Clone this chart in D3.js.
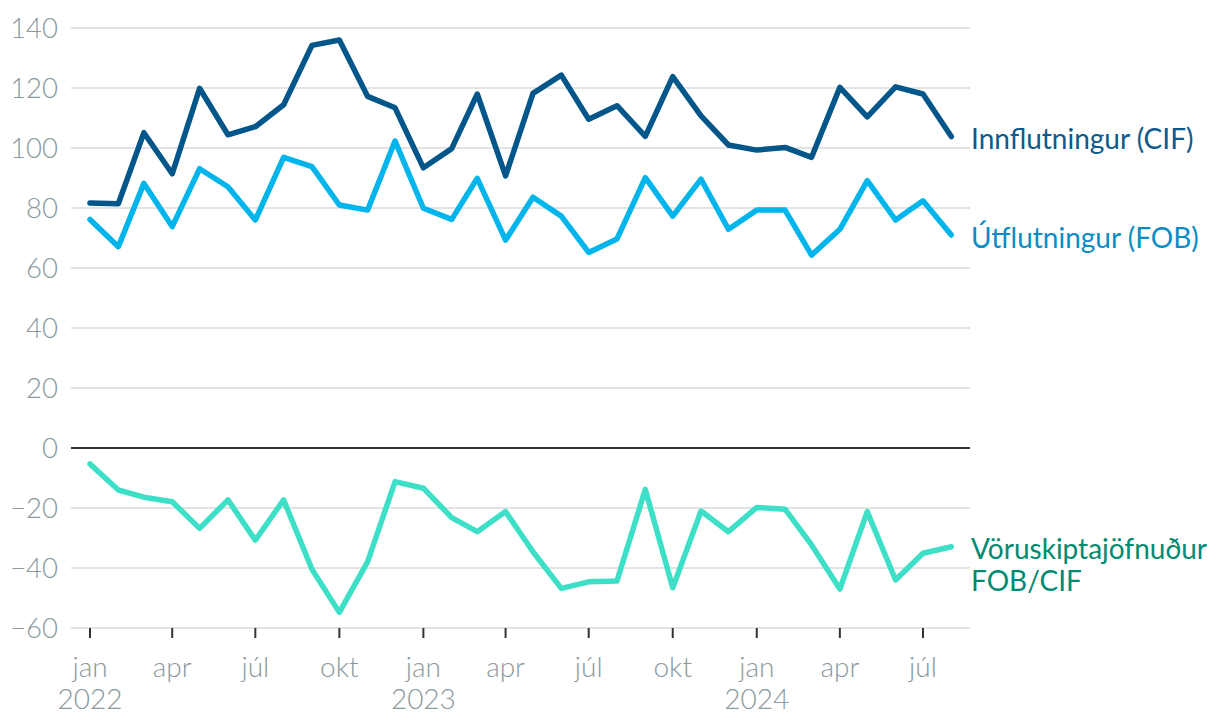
<!DOCTYPE html>
<html>
<head>
<meta charset="utf-8">
<script src="https://cdn.jsdelivr.net/npm/d3@7"></script>
<style>
  html, body { margin: 0; padding: 0; background: #fff; }
  svg { display: block; font-family: Lato, "Open Sans", sans-serif; }
</style>
</head>
<body>
<svg id="chart" width="1220" height="728"></svg>
<script>
const months = [
  "2022-01","2022-02","2022-03","2022-04","2022-05","2022-06","2022-07","2022-08","2022-09","2022-10","2022-11","2022-12",
  "2023-01","2023-02","2023-03","2023-04","2023-05","2023-06","2023-07","2023-08","2023-09","2023-10","2023-11","2023-12",
  "2024-01","2024-02","2024-03","2024-04","2024-05","2024-06","2024-07","2024-08"
];
const innflutningur = [
  81.7, 81.4, 105.1, 91.4, 119.9, 104.4, 107.1, 114.4, 134.2, 136.0, 117.2, 113.4,
  93.4, 99.8, 118.0, 90.7, 118.2, 124.3, 109.6, 114.1, 103.9, 123.8, 110.7, 101.0,
  99.3, 100.2, 96.9, 120.2, 110.4, 120.4, 118.0, 103.8
];
const utflutningur = [
  76.2, 67.1, 88.2, 73.8, 93.1, 87.1, 76.0, 96.9, 93.8, 81.0, 79.3, 102.3,
  79.9, 76.2, 89.9, 69.3, 83.6, 77.3, 65.2, 69.7, 90.1, 77.3, 89.6, 72.9,
  79.3, 79.3, 64.3, 72.9, 89.1, 76.0, 82.4, 71.0
];
const voruskiptajofnudur = [
  -5.3, -14.0, -16.4, -17.9, -26.8, -17.3, -30.7, -17.3, -40.4, -54.8, -37.9, -11.2,
  -13.4, -23.2, -27.9, -21.2, -34.6, -46.8, -44.6, -44.3, -13.8, -46.6, -21.0, -27.9,
  -19.8, -20.4, -32.3, -47.0, -21.2, -44.0, -35.1, -32.9
];
const yTicks = [-60, -40, -20, 0, 20, 40, 60, 80, 100, 120, 140];
const monthNames = ["jan","feb","mar","apr","maí","jún","júl","ágú","sep","okt","nóv","des"];
const seriesLabels = [
  { name: "Innflutningur (CIF)", lines: ["Innflutningur (CIF)"] },
  { name: "Útflutningur (FOB)", lines: ["Útflutningur (FOB)"] },
  { name: "Vöruskiptajöfnuður FOB/CIF", lines: ["Vöruskiptajöfnuður", "FOB/CIF"] }
];

const parse = d3.timeParse("%Y-%m");
const dates = months.map(parse);

const svg = d3.select("#chart");
const plotLeft = 71, plotRight = 970;

const x = d3.scaleTime()
  .domain([dates[0], dates[dates.length - 1]])
  .range([90, 951.3]);
const y = d3.scaleLinear().domain([-60, 140]).range([628, 28]);

// gridlines
svg.append("g").selectAll("line")
  .data(yTicks.filter(d => d !== 0))
  .join("line")
  .attr("x1", plotLeft).attr("x2", plotRight)
  .attr("y1", d => y(d)).attr("y2", d => y(d))
  .attr("stroke", "#e3e3e3").attr("stroke-width", 2);

// y labels
svg.append("g").selectAll("text")
  .data(yTicks)
  .join("text")
  .attr("x", 58).attr("y", d => y(d))
  .attr("dy", "0.35em")
  .attr("text-anchor", "end")
  .attr("font-size", 27.5).attr("font-weight", 300)
  .attr("fill", "#8a999e")
  .text(d => d < 0 ? "\u2212" + Math.abs(d) : d);

// x axis
const xTicks = x.ticks(d3.timeMonth.every(3));
const xg = svg.append("g");
xg.selectAll("line")
  .data(xTicks)
  .join("line")
  .attr("x1", d => x(d)).attr("x2", d => x(d))
  .attr("y1", 628).attr("y2", 638)
  .attr("stroke", "#333").attr("stroke-width", 2);
const xt = xg.selectAll("text")
  .data(xTicks)
  .join("text")
  .attr("x", d => x(d)).attr("y", 677)
  .attr("text-anchor", "middle")
  .attr("font-size", 28).attr("font-weight", 300)
  .attr("fill", "#8a999e");
xt.append("tspan").attr("x", d => x(d)).text(d => monthNames[d.getMonth()]);
xt.filter(d => d.getMonth() === 0).append("tspan")
  .attr("x", d => x(d)).attr("dy", 32).text(d => d.getFullYear());

// zero line
svg.append("line")
  .attr("x1", plotLeft).attr("x2", plotRight)
  .attr("y1", y(0)).attr("y2", y(0))
  .attr("stroke", "#333").attr("stroke-width", 2);

const line = d3.line().x((d, i) => x(dates[i])).y(d => y(d));
const series = [
  { values: innflutningur, color: "#02568a", text: "#0d5a8c", label: seriesLabels[0] },
  { values: utflutningur, color: "#00b4ec", text: "#0a8cc4", label: seriesLabels[1] },
  { values: voruskiptajofnudur, color: "#3de0c6", text: "#008a70", label: seriesLabels[2] }
];
svg.append("g").selectAll("path")
  .data(series)
  .join("path")
  .attr("d", d => line(d.values))
  .attr("fill", "none")
  .attr("stroke", d => d.color)
  .attr("stroke-width", 5.5)
  .attr("stroke-linejoin", "round")
  .attr("stroke-linecap", "round");

// series labels
const labelY = [139, 238, 549];
series.forEach((s, i) => {
  const t = svg.append("text")
    .attr("x", 971).attr("y", labelY[i])
    .attr("font-size", 28).attr("font-weight", 400)
    .attr("fill", s.text);
  s.label.lines.forEach((ln, j) => {
    t.append("tspan").attr("x", 971).attr("dy", j === 0 ? "0.35em" : 32).text(ln);
  });
});
</script>
</body>
</html>
